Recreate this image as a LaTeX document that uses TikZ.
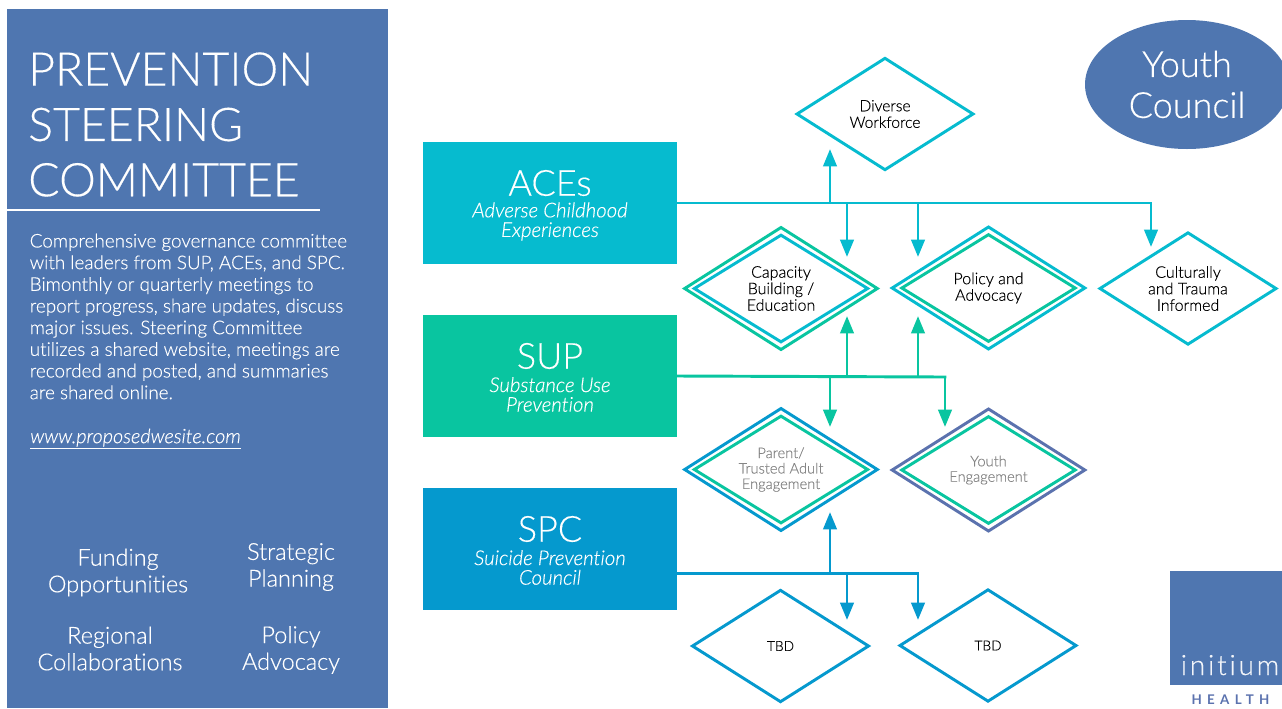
\documentclass[tikz,border=0pt]{standalone}
\usepackage{fontspec}
\setmainfont{Lato}[UprightFont=* Light,ItalicFont=* Light Italic,BoldFont=* Bold,Ligatures=NoCommon,UprightFeatures={FakeBold=0.35},ItalicFeatures={FakeBold=0.35}]
\usetikzlibrary{shapes.geometric,arrows.meta}
\definecolor{panelblue}{HTML}{4F76B0}
\definecolor{teal}{HTML}{06BBCF}
\definecolor{green}{HTML}{09C5A0}
\definecolor{blue}{HTML}{0599CE}
\definecolor{slate}{HTML}{5B72AE}
\definecolor{greytxt}{HTML}{858585}
\newcommand{\fsz}[2]{\fontsize{#1}{#2}\selectfont}
\tikzset{
  conn/.style={line width=2.2pt,draw=#1,-{Triangle[width=10pt,length=13pt]}},
  trunk/.style={line width=2.2pt,draw=#1,line cap=rect},
  dia/.style={shape=diamond,draw=#1,line width=2.2pt,inner sep=0pt,outer sep=0pt,aspect=1.6,align=center},
  outerdia/.style={dia=#1,minimum width=144.5pt,minimum height=91.5pt},
  innerdia/.style={dia=#1,minimum width=130pt,minimum height=80pt},
  plaindia/.style={dia=#1,minimum width=132pt,minimum height=83.5pt},
  dtext/.style={font=\fsz{12}{12.4},text=black},
  gtext/.style={font=\fsz{11}{11.6},text=greytxt},
  srcbox/.style={shape=rectangle,fill=#1,minimum width=190.5pt,minimum height=91.5pt,inner sep=0pt},
  srctitle/.style={text=white,inner sep=0pt,font=\fsz{27}{30}},
  srcsub/.style={text=white,inner sep=0pt,align=center,font=\fsz{15.3}{14.7}\itshape},
  paneltxt/.style={text=white,align=center,font=\fsz{17.6}{20},inner sep=0pt}
}
\begin{document}
\begin{tikzpicture}[x=.75pt,y=-.75pt]
\useasboundingbox (0,0) rectangle (1282,708);
\clip (0,0) rectangle (1282,708);
% left panel
\node[shape=rectangle,fill=panelblue,minimum width=285.75pt,minimum height=524.25pt,inner sep=0pt,anchor=north west] (panel) at (7,9) {};
\node[text=white,align=left,anchor=west,inner sep=0pt,font=\fsz{34.8}{41.5}] (title) at (28,124.5) {PREVENTION\\STEERING\\COMMITTEE};
\coordinate (ruleL) at (7,210); \coordinate (ruleR) at (320,210);
\draw[white,line width=2.2pt] (ruleL) -- (ruleR);
\node[text=white,align=left,anchor=west,inner sep=0pt,font=\fsz{14.15}{16.25}] (desc) at (29.5,316.5) {Comprehensive governance committee\\with leaders from SUP, ACEs, and SPC.\\Bimonthly or quarterly meetings to\\report progress, share updates, discuss\\major issues. Steering Committee\\utilizes a shared website, meetings are\\recorded and posted, and summaries\\are shared online.};
\node[text=white,anchor=west,inner sep=0pt,font=\fsz{14.9}{16.25}\itshape] (link) at (30,439) {\underline{www.proposedwesite.com}};
\node[paneltxt] (fund) at (118,572.5) {Funding\\Opportunities};
\node[paneltxt] (strat) at (291,567) {Strategic\\Planning};
\node[paneltxt] (reg) at (110,648.5) {Regional\\Collaborations};
\node[paneltxt] (pol) at (291,650) {Policy\\Advocacy};
% source boxes
\node[srcbox=teal] (aces) at (550,203) {};
\node[srctitle] (acesT) at (550,183) {ACEs};
\node[srcsub] (acesS) at (550,221.5) {Adverse Childhood\\Experiences};
\node[srcbox=green] (sup) at (550,376) {};
\node[srctitle] (supT) at (550,356) {SUP};
\node[srcsub] (supS) at (550,394.5) {Substance Use\\Prevention};
\node[srcbox=blue] (spc) at (550,549) {};
\node[srctitle] (spcT) at (550,529) {SPC};
\node[srcsub] (spcS) at (550,567.5) {Suicide Prevention\\Council};
% diamonds
\node[plaindia=teal,dtext,font=\fsz{11.7}{12.4}] (div) at (885,114) {Diverse\\Workforce};
\node[outerdia=green] (capO) at (781,288.5) {};
\node[innerdia=teal,dtext] (cap) at (781,288.5) {Capacity\\Building /\\Education};
\node[outerdia=teal] (polO) at (988.5,288) {};
\node[innerdia=green,dtext] (polad) at (988.5,288) {Policy and\\Advocacy};
\node[plaindia=teal,dtext] (cult) at (1188,288.5) {Culturally\\and Trauma\\Informed};
\node[outerdia=blue] (parO) at (781,469.5) {};
\node[innerdia=green,gtext] (par) at (781,469.5) {Parent/\\Trusted Adult\\Engagement};
\node[outerdia=slate] (youO) at (988.5,470) {};
\node[innerdia=green,gtext] (you) at (988.5,470) {Youth\\Engagement};
\node[plaindia=blue,dtext,font=\fsz{10.3}{12}] (tbdA) at (780.5,646) {TBD};
\node[plaindia=blue,dtext,font=\fsz{10.3}{12}] (tbdB) at (988,645.5) {TBD};
% youth council
\node[shape=ellipse,fill=panelblue,minimum width=153pt,minimum height=96.75pt,inner sep=0pt,text=white,align=center,font=\fsz{27}{30.7}] (yc) at (1187,84.5) {\raisebox{-1pt}{Youth}\\\raisebox{-1pt}{Council}};
% logo
\node[shape=rectangle,fill=panelblue,minimum width=84pt,minimum height=85.5pt,inner sep=0pt,anchor=north west] (logo) at (1170,571) {};
\node[text=white!92!panelblue,inner sep=0pt,font=\fsz{21}{22},anchor=base] (init) at (1230,675) {\addfontfeature{LetterSpace=10}initium};
\node[text=slate,inner sep=0pt,font=\fsz{10}{11}\bfseries,anchor=base] (hlth) at (1230.5,704) {\addfontfeature{LetterSpace=40}HEALTH};
% teal connectors
\coordinate (tA) at (830,203); \coordinate (tB) at (847,203); \coordinate (tC) at (918,203); \coordinate (tD) at (1151,203);
\coordinate (tAe) at (830,149); \coordinate (tBe) at (847,257); \coordinate (tCe) at (918,257); \coordinate (tDe) at (1151,247);
\draw[trunk=teal] (aces.east) -- (tD);
\draw[conn=teal] (tA) -- (tAe);
\draw[conn=teal] (tB) -- (tBe);
\draw[conn=teal] (tC) -- (tCe);
\draw[conn=teal] (tD) -- (tDe);
% green connectors
\coordinate (gA) at (830,377); \coordinate (gB) at (847,377); \coordinate (gC) at (918,377); \coordinate (gD) at (945,377);
\coordinate (gAe) at (830,427); \coordinate (gBe) at (847,316); \coordinate (gCe) at (918,316); \coordinate (gDe) at (945,427);
\draw[trunk=green] (sup.east) -- (gD);
\draw[conn=green] (gA) -- (gAe);
\draw[conn=green] (gB) -- (gBe);
\draw[conn=green] (gC) -- (gCe);
\draw[conn=green] (gD) -- (gDe);
% blue connectors
\coordinate (bS) at (677,573.5); \coordinate (bA) at (830,573.5); \coordinate (bB) at (847,573.5); \coordinate (bC) at (918,573.5);
\coordinate (bAe) at (830,512); \coordinate (bBe) at (847,620); \coordinate (bCe) at (918,620);
\draw[trunk=blue] (bS) -- (bC);
\draw[conn=blue] (bA) -- (bAe);
\draw[conn=blue] (bB) -- (bBe);
\draw[conn=blue] (bC) -- (bCe);
\end{tikzpicture}
\end{document}
